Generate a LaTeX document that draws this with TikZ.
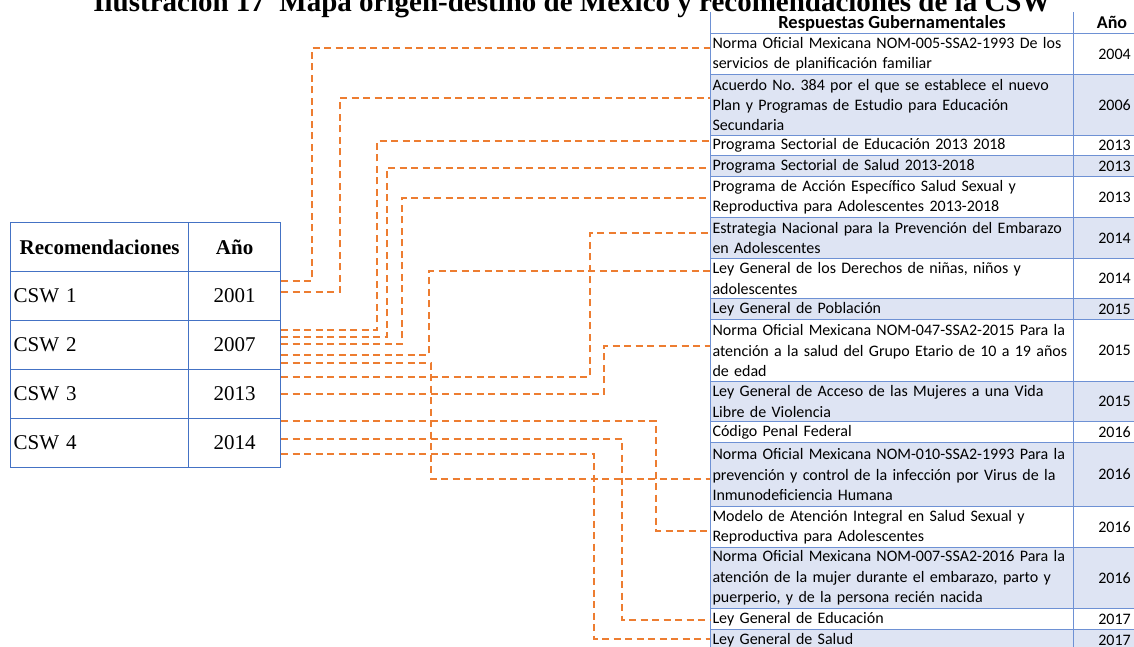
\documentclass[tikz,border=0pt]{standalone}
\usepackage{fontspec}
\setmainfont{Liberation Serif}
\newfontfamily\calib{Carlito}
\usepackage{tikz}
\usetikzlibrary{calc}
\definecolor{tabblue}{RGB}{68,114,196}
\definecolor{rline}{RGB}{110,145,212}
\definecolor{rshade}{RGB}{222,228,243}
\definecolor{linkorange}{RGB}{237,125,49}
\tikzset{cell/.style = {shape=rectangle,draw=tabblue,line width=1.2pt,minimum height=49pt,inner sep=0pt,
                        font=\fontsize{21}{24}\selectfont}}
\tikzset{respcell/.style = {shape=rectangle,draw=rline,line width=1pt,text width=359pt,inner xsep=2pt,inner ysep=0pt,
                            align=left,font=\calib\fontsize{16}{20.4}\selectfont,anchor=north west}}
\tikzset{yearcell/.style = {shape=rectangle,draw=rline,line width=1pt,minimum width=82pt,inner sep=0pt,
                            align=center,font=\calib\fontsize{16}{20.4}\selectfont,anchor=north west}}
\tikzset{link/.style = {draw=linkorange,line width=1.8pt,dash pattern=on 7pt off 4.5pt}}
\newcommand{\resprow}[6]{%
  \node[respcell,fill=#4,minimum height=#3] (#1) at (710,#2) {#5};
  \node[yearcell,fill=#4,minimum height=#3] (#1y) at (1073,#2) {#6};}
\newcommand{\link}[5]{\draw[link] (#1.east |- 0,#2) -- (#3,#2) -- (#3,#5) -- (#4.west |- 0,#5);}

\begin{document}
\begin{tikzpicture}[x=1pt,y=-1pt]
  \useasboundingbox (0,0) rectangle (1134,646);

  \node[font=\bfseries\fontsize{29}{33}\selectfont,anchor=base] (title) at (572,11)
    {Ilustración 17\ \ Mapa origen-destino de México y recomendaciones de la CSW};

  % recomendaciones
  \node[cell,minimum width=178pt,anchor=north west,font=\bfseries\fontsize{21}{24}\selectfont] (rechead) at (10,222) {Recomendaciones};
  \node[cell,minimum width=92pt,anchor=north west,font=\bfseries\fontsize{21}{24}\selectfont] (anohead) at (188,222) {Año};
  \node[cell,text width=172pt,inner xsep=3pt,align=left,anchor=north west] (csw1) at (10,271) {CSW 1};
  \node[cell,minimum width=92pt,anchor=north west] (y2001) at (188,271) {2001};
  \node[cell,text width=172pt,inner xsep=3pt,align=left,anchor=north west] (csw2) at (10,320) {CSW 2};
  \node[cell,minimum width=92pt,anchor=north west] (y2007) at (188,320) {2007};
  \node[cell,text width=172pt,inner xsep=3pt,align=left,anchor=north west] (csw3) at (10,369) {CSW 3};
  \node[cell,minimum width=92pt,anchor=north west] (y2013) at (188,369) {2013};
  \node[cell,text width=172pt,inner xsep=3pt,align=left,anchor=north west] (csw4) at (10,418) {CSW 4};
  \node[cell,minimum width=92pt,anchor=north west] (y2014) at (188,418) {2014};

  % respuestas
  \resprow{n005}{33}{41}{white}{Norma Oficial Mexicana NOM-005-SSA2-1993 De los\\servicios de planificación familiar}{2004}
  \resprow{acu384}{74}{61}{rshade}{Acuerdo No.\ 384 por el que se establece el nuevo\\Plan y Programas de Estudio para Educación\\Secundaria}{2006}
  \resprow{psedu}{135}{20}{white}{Programa Sectorial de Educación 2013 2018}{2013}
  \resprow{pssal}{155}{21}{rshade}{Programa Sectorial de Salud 2013-2018}{2013}
  \resprow{paes}{176}{41}{white}{Programa de Acción Específico Salud Sexual y\\Reproductiva para Adolescentes 2013-2018}{2013}
  \resprow{enpea}{217}{41}{rshade}{Estrategia Nacional para la Prevención del Embarazo\\en Adolescentes}{2014}
  \resprow{lgdna}{258}{40}{white}{Ley General de los Derechos de niñas, niños y\\adolescentes}{2014}
  \resprow{lgpob}{298}{21}{rshade}{Ley General de Población}{2015}
  \resprow{n047}{319}{62}{white}{Norma Oficial Mexicana NOM-047-SSA2-2015 Para la\\atención a la salud del Grupo Etario de 10 a 19 años\\de edad}{2015}
  \resprow{lgamv}{381}{40}{rshade}{Ley General de Acceso de las Mujeres a una Vida\\Libre de Violencia}{2015}
  \resprow{cpf}{421}{21}{white}{Código Penal Federal}{2016}
  \resprow{n010}{442}{64}{rshade}{Norma Oficial Mexicana NOM-010-SSA2-1993 Para la\\prevención y control de la infección por Virus de la\\Inmunodeficiencia Humana}{2016}
  \resprow{modelo}{506}{41}{white}{Modelo de Atención Integral en Salud Sexual y\\Reproductiva para Adolescentes}{2016}
  \resprow{n007}{547}{61}{rshade}{Norma Oficial Mexicana NOM-007-SSA2-2016 Para la\\atención de la mujer durante el embarazo, parto y\\puerperio, y de la persona recién nacida}{2016}
  \resprow{lgedu}{608}{21}{white}{Ley General de Educación}{2017}
  \resprow{lgsal}{629}{21}{rshade}{Ley General de Salud}{2017}
  \node[font=\calib\bfseries\fontsize{18.5}{22}\selectfont,anchor=base] (resphead) at (892,28) {Respuestas Gubernamentales};
  \node[font=\calib\bfseries\fontsize{18}{22}\selectfont,anchor=base] (anoresp) at (1112,28) {Año};
  \draw[rline,line width=1pt] (n005.north west) -- ++(0,-21);
  \draw[rline,line width=1pt] (n005y.north west) -- ++(0,-21);

  % conexiones
  \link{y2001}{281}{312}{n005}{48}
  \link{y2001}{292}{340}{acu384}{98}
  \link{y2007}{330}{377}{psedu}{141}
  \link{y2007}{337}{387}{pssal}{168}
  \link{y2007}{344}{402}{paes}{198}
  \link{y2007}{355}{429}{lgdna}{271}
  \link{y2007}{363}{431}{n010}{479}
  \link{y2013}{377}{590}{enpea}{233}
  \link{y2013}{394}{604}{n047}{346}
  \link{y2014}{421}{656}{modelo}{531}
  \link{y2014}{439}{622}{lgedu}{620}
  \link{y2014}{454}{594}{lgsal}{639}
\end{tikzpicture}
\end{document}
